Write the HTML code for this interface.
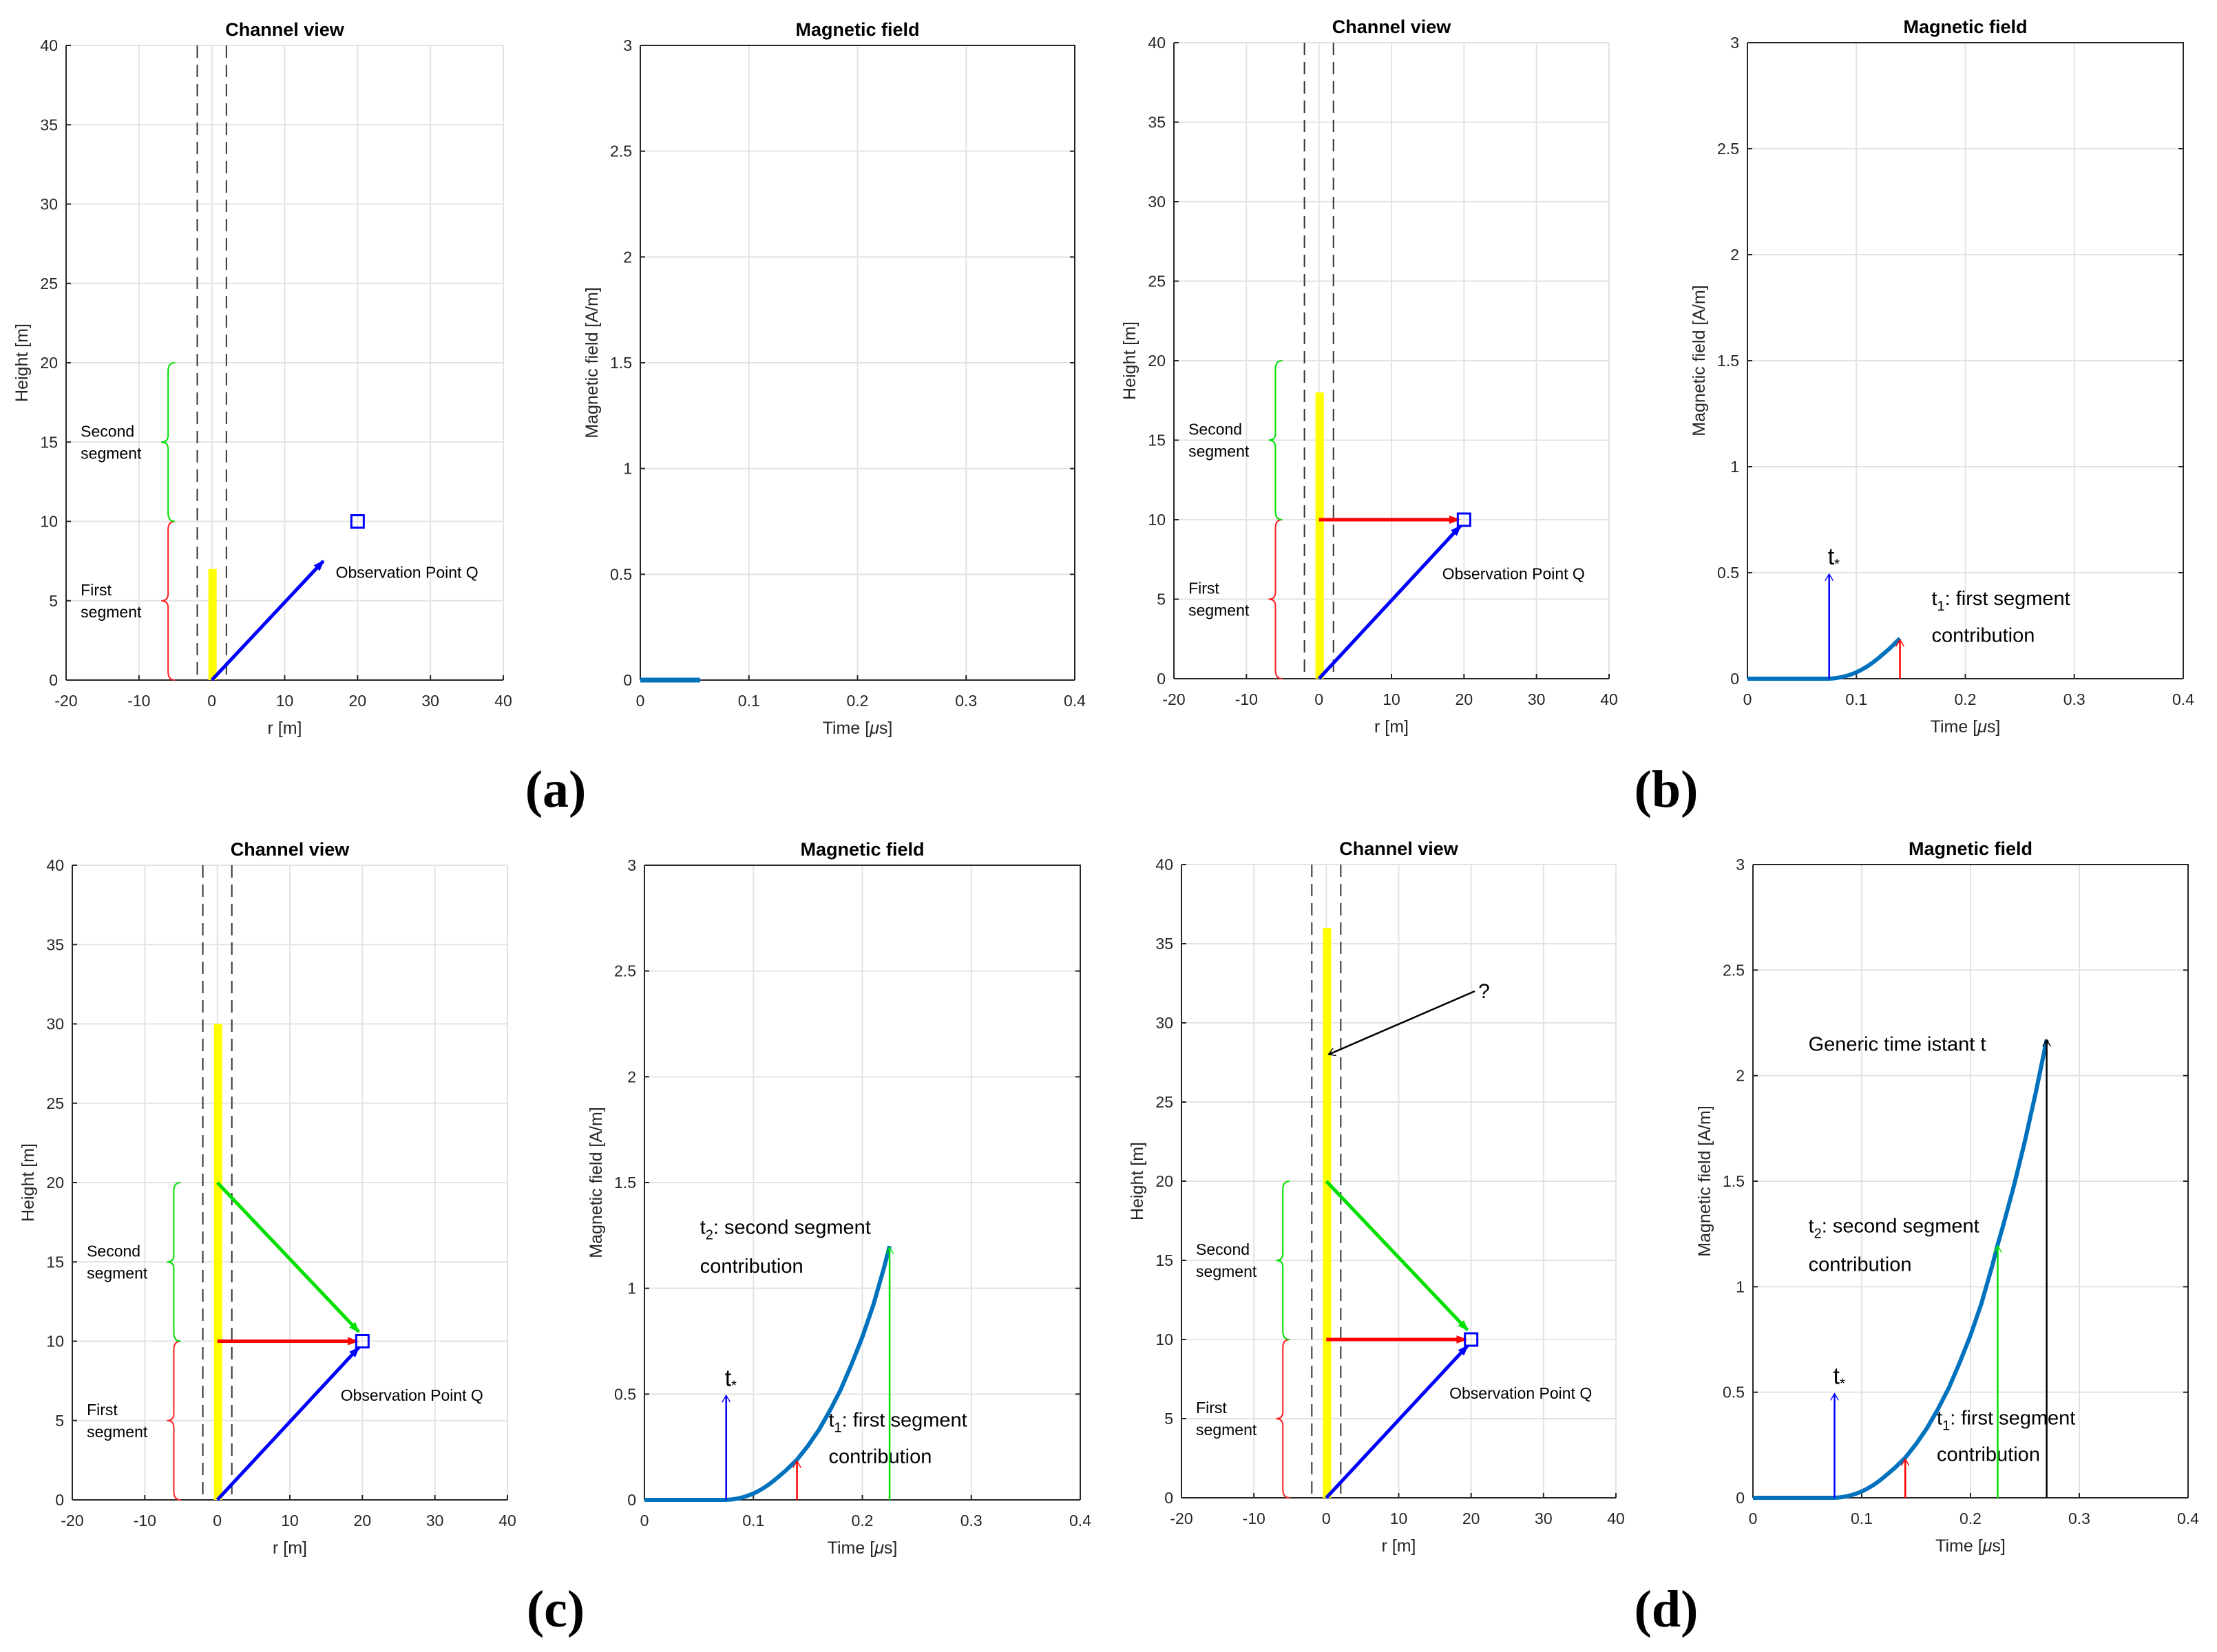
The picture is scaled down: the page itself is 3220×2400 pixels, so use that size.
<!DOCTYPE html>
<html><head><meta charset="utf-8"><style>
html,body{margin:0;padding:0;background:#fff}
svg{display:block}
text{font-family:"Liberation Sans",sans-serif}
text.serif{font-family:"Liberation Serif",serif}
</style></head><body>
<svg id="fig" xmlns="http://www.w3.org/2000/svg" width="3220" height="2400" viewBox="0 0 3220 2400">
<defs>
<marker id="ah" markerWidth="18" markerHeight="14" refX="14" refY="7" orient="auto" markerUnits="userSpaceOnUse" viewBox="0 0 18 14"><path d="M0,1 L16,7 L0,13 z" fill="context-stroke"/></marker>
<marker id="ao" markerWidth="12" markerHeight="12" refX="10" refY="6" orient="auto" markerUnits="userSpaceOnUse" viewBox="0 0 12 12"><path d="M0,0 L10,6 L0,12" fill="none" stroke="context-stroke" stroke-width="1.4"/></marker>
</defs>
</svg>
<script>
const rTicks=[-20,-10,0,10,20,30,40];
const hTicks=[0,5,10,15,20,25,30,35,40];
const tTicks=[0,0.1,0.2,0.3,0.4];
const tTickLabels=["0","0.1","0.2","0.3","0.4"];
const bTicks=[0,0.5,1,1.5,2,2.5,3];
const bTickLabels=["0","0.5","1","1.5","2","2.5","3"];
const curveT=[0,0.075,0.08,0.085,0.09,0.095,0.1,0.105,0.11,0.115,0.12,0.13,0.14,0.15,0.16,0.17,0.18,0.19,0.2,0.21,0.22,0.225,0.23,0.24,0.25,0.26,0.27];
const curveB=[0,0,0.002,0.006,0.012,0.02,0.03,0.043,0.058,0.076,0.096,0.14,0.19,0.255,0.33,0.42,0.52,0.64,0.77,0.92,1.1,1.2,1.29,1.48,1.69,1.92,2.17];
const channelHeights=[7,18,30,36];
const curveEnds=[0.055,0.14,0.225,0.27];
const obsPoint=[20,10];
const tStar=[0.075,0.5];
const t1=[0.14,0.19];
const t2=[0.225,1.2];
const tGen=[0.27,2.17];
const panelLetters=["(a)","(b)","(c)","(d)"];

const NS="http://www.w3.org/2000/svg";
const svg=document.getElementById('fig');
function el(tag,attrs,parent,txt){const e=document.createElementNS(NS,tag);for(const k in attrs)e.setAttribute(k,attrs[k]);if(txt!==undefined)e.textContent=txt;(parent||svg).appendChild(e);return e;}

const panels=[
 {ch:[96,731,66,988],mg:[930,1561,66,988],lab:[807,1146]},
 {ch:[1705,2337,62,986],mg:[2538,3171,62,986],lab:[2420,1146]},
 {ch:[105,737,1257,2179],mg:[936,1569,1257,2179],lab:[807,2337]},
 {ch:[1716,2347,1256,2176],mg:[2546,3178,1256,2176],lab:[2420,2337]}
];

function axisFrame(g,b,xt,xl,yt,yl,box,xmin,xmax,ymin,ymax){
 const [L,R,T,B]=b;
 const sx=v=>L+(v-xmin)/(xmax-xmin)*(R-L), sy=v=>B-(v-ymin)/(ymax-ymin)*(B-T);
 xt.forEach((v,i)=>{const x=sx(v);
  let gl=el('line',{x1:x,x2:x,y1:T,y2:B,stroke:'#e3e3e3','stroke-width':2},g);
  
  let tk=el('line',{x1:x,x2:x,y1:B,y2:B-7,stroke:'#262626','stroke-width':2},g);
  
  let t=el('text',{x:x,y:B+38,'font-size':23,'text-anchor':'middle',fill:'#262626'},g,xl[i]);
  
 });
 yt.forEach((v,i)=>{const y=sy(v);
  let gl=el('line',{x1:L,x2:R,y1:y,y2:y,stroke:'#e3e3e3','stroke-width':2},g);
  
  let tk=el('line',{x1:L,x2:L+7,y1:y,y2:y,stroke:'#262626','stroke-width':2},g);
  
  if(box){let tk2=el('line',{x1:R,x2:R-7,y1:y,y2:y,stroke:'#262626','stroke-width':2},g);
   }
  let t=el('text',{x:L-12,y:y+8,'font-size':23,'text-anchor':'end',fill:'#262626'},g,yl[i]);
  
 });
 let ax=el('line',{x1:L,x2:R,y1:B,y2:B,stroke:'#262626','stroke-width':2},g);
 
 let ay=el('line',{x1:L,x2:L,y1:T,y2:B,stroke:'#262626','stroke-width':2},g);
 
 if(box){let bx=el('path',{d:`M${L},${T} L${R},${T} L${R},${B}`,fill:'none',stroke:'#262626','stroke-width':2},g);
  }
 return [sx,sy];
}
function txt(g,x,y,s,size,name,extra){const t=el('text',Object.assign({x:x,y:y,'font-size':size,fill:'#000'},extra||{}),g);t.innerHTML=s;return t;}
function brace(g,x,y0,y1,color,name){
 const m=(y0+y1)/2,w=10;
 const p=el('path',{d:`M${x+w},${y0} Q${x},${y0} ${x},${y0-12} L${x},${m+10} Q${x},${m} ${x-w},${m} Q${x},${m} ${x},${m-10} L${x},${y1+12} Q${x},${y1} ${x+w},${y1}`,fill:'none',stroke:color,'stroke-width':2},g);
 
}
function arrow(g,x1,y1,x2,y2,color,w,name,open){
 const a=el('line',{x1:x1,y1:y1,x2:x2,y2:y2,stroke:color,'stroke-width':w,'marker-end':open?'url(#ao)':'url(#ah)'},g);
 
}

panels.forEach((P,pi)=>{
 const g=el('g',{});
 
 const [sx,sy]=axisFrame(g,P.ch,rTicks,rTicks.map(String),hTicks,hTicks.map(String),false,-20,40,0,40);
 const [L,R,T,B]=P.ch;
 txt(g,(L+R)/2,T-14,'Channel view',27,'chart-title',{'text-anchor':'middle','font-weight':'bold'});
 txt(g,(L+R)/2,B+78,'r [m]',25,'x-axis-title',{'text-anchor':'middle',fill:'#262626'});
 txt(g,L-56,(T+B)/2,'Height [m]',25,'y-axis-title',{'text-anchor':'middle',fill:'#262626',transform:`rotate(-90 ${L-56} ${(T+B)/2})`});
 [-2,2].forEach(v=>{const d=el('line',{x1:sx(v),x2:sx(v),y1:T,y2:B,stroke:'#333','stroke-width':2,'stroke-dasharray':'18,10'},g);
  });
 const bar=el('rect',{x:sx(0)-5,y:sy(channelHeights[pi]),width:12,height:sy(0)-sy(channelHeights[pi]),fill:'#ffff00'},g);
 
 brace(g,sx(-6),sy(0),sy(10),'#ff2020','first-segment-brace');
 brace(g,sx(-6),sy(10),sy(20),'#00e000','second-segment-brace');
 txt(g,sx(-18),sy(15)-8,'Second',23,'second-segment-label');
 txt(g,sx(-18),sy(15)+24,'segment',23,'second-segment-label');
 txt(g,sx(-18),sy(5)-8,'First',23,'first-segment-label');
 txt(g,sx(-18),sy(5)+24,'segment',23,'first-segment-label');
 if(pi===0){arrow(g,sx(0),sy(0),sx(15.3),sy(7.5),'#0000ff',5,'distance-arrow');}
 else{
  if(pi>=2)arrow(g,sx(0),sy(20),sx(19.5),sy(10.6),'#00e000',5,'second-segment-arrow');
  arrow(g,sx(0),sy(10),sx(19.3),sy(10),'#ff0000',5,'first-segment-arrow');
  arrow(g,sx(0),sy(0),sx(19.5),sy(9.6),'#0000ff',5,'distance-arrow');
 }
 const sq=el('rect',{x:sx(obsPoint[0])-9,y:sy(obsPoint[1])-9,width:18,height:18,fill:'none',stroke:'#0000ff','stroke-width':3},g);
 
 txt(g,sx(17),sy(pi===0?6.8:6.6)+8,'Observation Point Q',23,'observation-point-label');
 if(pi===3){arrow(g,sx(20.5),sy(32),sx(0.3),sy(28),'#000',2.5,'question-arrow',true);
  txt(g,sx(21),sy(32)+10,'?',30,'question-mark');}

 const m=el('g',{});
 
 const [tx,ty]=axisFrame(m,P.mg,tTicks,tTickLabels,bTicks,bTickLabels,true,0,0.4,0,3);
 const [L2,R2,T2,B2]=P.mg;
 txt(m,(L2+R2)/2,T2-14,'Magnetic field',27,'chart-title',{'text-anchor':'middle','font-weight':'bold'});
 txt(m,(L2+R2)/2,B2+78,'Time [<tspan font-style="italic">μ</tspan>s]',25,'x-axis-title',{'text-anchor':'middle',fill:'#262626'});
 txt(m,L2-62,(T2+B2)/2,'Magnetic field [A/m]',25,'y-axis-title',{'text-anchor':'middle',fill:'#262626',transform:`rotate(-90 ${L2-62} ${(T2+B2)/2})`});
 const end=curveEnds[pi];let pts=[];
 for(let i=0;i<curveT.length;i++){
  if(curveT[i]<=end)pts.push([curveT[i],curveB[i]]);
  else{const a=curveT[i-1],b=curveT[i],f=(end-a)/(b-a);pts.push([end,curveB[i-1]+f*(curveB[i]-curveB[i-1])]);break;}
 }
 const pl=el('polyline',{points:pts.map(p=>tx(p[0])+','+ty(p[1])).join(' '),fill:'none',stroke:'#0072bd',
  'stroke-width':pi===0?7:6,'stroke-linejoin':'round'},m);
 
 if(pi>=1){
  arrow(m,tx(tStar[0]),ty(0),tx(tStar[0]),ty(tStar[1])+2,'#0000ff',2.5,'t-star-arrow',true);
  txt(m,tx(tStar[0])-2,ty(tStar[1])-12,'t<tspan font-size="20" dy="6">*</tspan>',34,'t-star-label');
  arrow(m,tx(t1[0]),ty(0),tx(t1[0]),ty(t1[1])+2,'#ff0000',2.5,'t1-arrow',true);
  const x1=tx(0.169);
  txt(m,x1,ty(0.36)+4,'t<tspan font-size="20" dy="8">1</tspan><tspan dy="-8">: first segment</tspan>',29,'t1-label');
  txt(m,x1,ty(0.2)+8,'contribution',29,'t1-label');
 }
 if(pi>=2){
  arrow(m,tx(t2[0]),ty(0),tx(t2[0]),ty(t2[1])+2,'#00e000',2.5,'t2-arrow',true);
  txt(m,tx(0.051),ty(1.27)+4,'t<tspan font-size="20" dy="8">2</tspan><tspan dy="-8">: second segment</tspan>',29,'t2-label');
  txt(m,tx(0.051),ty(1.1)+8,'contribution',29,'t2-label');
 }
 if(pi===3){
  arrow(m,tx(tGen[0]),ty(0),tx(tGen[0]),ty(tGen[1]),'#000',2.5,'generic-time-arrow',true);
  txt(m,tx(0.051),ty(2.15)+10,'Generic time istant t',29,'generic-time-label');
 }
 txt(svg,P.lab[0],P.lab[1]+26,panelLetters[pi],76,'panel-label-'+'abcd'[pi],{'text-anchor':'middle','font-weight':'bold','class':'serif'});
});
</script>
</body></html>
